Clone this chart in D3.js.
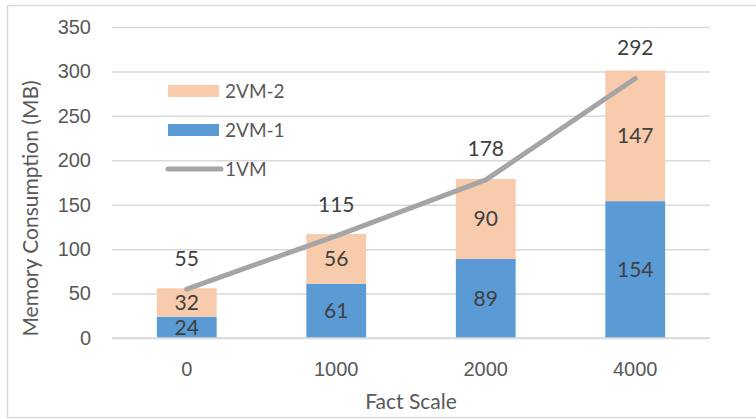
<!DOCTYPE html>
<html>
<head>
<meta charset="utf-8">
<script src="https://cdn.jsdelivr.net/npm/d3@7"></script>
<style>
  html, body { margin: 0; padding: 0; background: #fff; }
  svg { display: block; font-family: "Lato", "Open Sans", sans-serif; }
</style>
</head>
<body>
<svg id="chart" width="756" height="419"></svg>
<script>
// Memory consumption per fact scale: two-VM split (stacked) vs. single VM (line)
const categories = ["0", "1000", "2000", "4000"];
const vm2part1 = [24, 61, 89, 154];   // 2VM-1
const vm2part2 = [32, 56, 90, 147];   // 2VM-2
const vm1 = [55, 115, 178, 292];      // 1VM
const yTicks = [0, 50, 100, 150, 200, 250, 300, 350];

const svg = d3.select("#chart");
const W = 756, H = 419;
const margin = { left: 112, right: 46, top: 27, bottom: 81 };
const plotW = W - margin.left - margin.right;
const plotH = H - margin.top - margin.bottom;

// outer frame
svg.append("rect")
  .attr("x", 7.5).attr("y", 5.5)
  .attr("width", W + 10).attr("height", H - 7)
  .attr("fill", "#fff").attr("stroke", "#d9d9d9").attr("stroke-width", 1.5);

const g = svg.append("g").attr("transform", `translate(${margin.left},${margin.top})`);

const x = d3.scaleBand().domain(categories).range([0, plotW]).paddingInner(0.6).paddingOuter(0.3);
const y = d3.scaleLinear().domain([0, 350]).range([plotH, 0]);

// gridlines
const yAxis = d3.axisLeft(y).tickValues(yTicks).tickSize(-plotW).tickPadding(21);
const ya = g.append("g").call(yAxis);
ya.select(".domain").remove();
ya.selectAll(".tick line").attr("stroke", "#d9d9d9").attr("stroke-width", 1.5);
ya.selectAll(".tick text").attr("fill", "#595959").style("font-size", "20px");

// stacked bars
const rows = categories.map((c, i) => ({ cat: c, a: vm2part1[i], b: vm2part2[i] }));
const stack = d3.stack().keys(["a", "b"])(rows);
const colors = { a: "#5b9bd5", b: "#f8cbad" };

stack.forEach(layer => {
  const lg = g.append("g");
  lg.selectAll("rect").data(layer).join("rect")
    .attr("x", d => x(d.data.cat))
    .attr("width", x.bandwidth())
    .attr("y", d => y(d[1]))
    .attr("height", d => y(d[0]) - y(d[1]))
    .attr("fill", colors[layer.key]);
  lg.selectAll("text").data(layer).join("text")
    .attr("x", d => x(d.data.cat) + x.bandwidth() / 2)
    .attr("y", d => (y(d[0]) + y(d[1])) / 2)
    .attr("dy", "0.36em")
    .attr("text-anchor", "middle")
    .attr("fill", "#404040")
    .style("font-size", "21px")
    .text(d => d.data[layer.key]);
});

// x axis baseline
g.append("line")
  .attr("x1", 0).attr("x2", plotW)
  .attr("y1", y(0)).attr("y2", y(0))
  .attr("stroke", "#d9d9d9").attr("stroke-width", 1.5);

// x tick labels
const xAxis = d3.axisBottom(x).tickSize(0).tickPadding(24);
const xa = g.append("g").attr("transform", `translate(0,${plotH})`).call(xAxis);
xa.select(".domain").remove();
xa.selectAll(".tick text").attr("fill", "#595959").style("font-size", "20px");

// 1VM line
const cx = c => x(c) + x.bandwidth() / 2;
const line = d3.line().x((d, i) => cx(categories[i])).y(d => y(d));
g.append("path")
  .datum(vm1)
  .attr("d", line)
  .attr("fill", "none")
  .attr("stroke", "#a5a5a5")
  .attr("stroke-width", 5)
  .attr("stroke-linecap", "round")
  .attr("stroke-linejoin", "round");

g.selectAll(".vm1-label").data(vm1).join("text")
  .attr("class", "vm1-label")
  .attr("x", (d, i) => cx(categories[i]))
  .attr("y", d => y(d) - 31)
  .attr("dy", "0.36em")
  .attr("text-anchor", "middle")
  .attr("fill", "#404040")
  .style("font-size", "21px")
  .text(d => d);

// legend
const legendItems = [
  { name: "2VM-2", type: "rect", color: colors.b },
  { name: "2VM-1", type: "rect", color: colors.a },
  { name: "1VM", type: "line", color: "#a5a5a5" }
];
const leg = svg.append("g").attr("transform", "translate(168,91)");
legendItems.forEach((it, i) => {
  const row = leg.append("g").attr("transform", `translate(0,${i * 39})`);
  if (it.type === "rect") {
    row.append("rect").attr("x", 0).attr("y", -6).attr("width", 51).attr("height", 12).attr("fill", it.color);
  } else {
    row.append("line").attr("x1", 0).attr("x2", 53).attr("y1", 0).attr("y2", 0)
      .attr("stroke", it.color).attr("stroke-width", 5).attr("stroke-linecap", "round");
  }
  row.append("text").attr("x", 57).attr("y", 0).attr("dy", "0.36em")
    .attr("fill", "#595959").style("font-size", "19px").text(it.name);
});

// axis titles
svg.append("text")
  .attr("transform", `translate(30,${margin.top + plotH / 2 + 26}) rotate(-90)`)
  .attr("text-anchor", "middle")
  .attr("dy", "0.36em")
  .attr("fill", "#595959")
  .style("font-size", "21px")
  .text("Memory Consumption (MB)");

svg.append("text")
  .attr("x", margin.left + plotW / 2)
  .attr("y", 401)
  .attr("dy", "0.36em")
  .attr("text-anchor", "middle")
  .attr("fill", "#595959")
  .style("font-size", "21px")
  .text("Fact Scale");
</script>
</body>
</html>
